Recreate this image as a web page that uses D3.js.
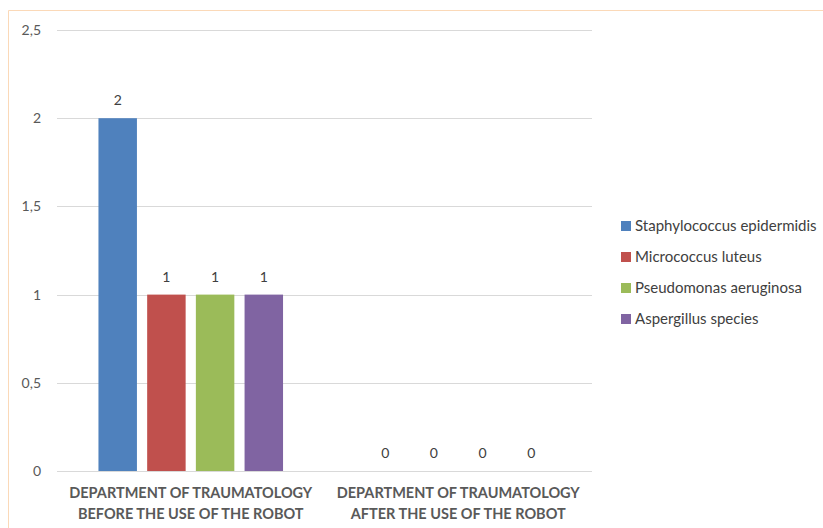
<!DOCTYPE html>
<html>
<head>
<meta charset="utf-8">
<script src="https://cdn.jsdelivr.net/npm/d3@7"></script>
<style>
  body { margin: 0; background: #fff; }
  text { font-family: Lato, "Open Sans", sans-serif; }
</style>
</head>
<body>
<div id="chart"></div>
<script>
// data
var categories = ["DEPARTMENT OF TRAUMATOLOGY|BEFORE THE USE OF THE ROBOT",
                  "DEPARTMENT OF TRAUMATOLOGY|AFTER THE USE OF THE ROBOT"];
var species = ["Staphylococcus epidermidis", "Micrococcus luteus",
               "Pseudomonas aeruginosa", "Aspergillus species"];
var colors = ["#4F81BD", "#C0504D", "#9BBB59", "#8064A2"];
var values = [[2, 1, 1, 1], [0, 0, 0, 0]];
var yTicks = [0, 0.5, 1, 1.5, 2, 2.5];

var width = 823, height = 528;
var plot = {left: 57, right: 592, top: 30, bottom: 471};

var svg = d3.select("#chart").append("svg")
  .attr("width", width)
  .attr("height", height);

// outer frame
svg.append("path")
  .attr("d", "M8.5," + height + "V10.5H" + width)
  .attr("fill", "none")
  .attr("stroke", "#FBD9B8")
  .attr("stroke-width", 1);

var y = d3.scaleLinear().domain([0, 2.5]).range([plot.bottom, plot.top]);
var x0 = d3.scaleBand().domain(d3.range(categories.length))
  .range([plot.left, plot.right]).paddingInner(0.31).paddingOuter(0.155);
var x1 = d3.scaleBand().domain(d3.range(species.length))
  .range([0, x0.bandwidth()]).paddingInner(0.21);

// gridlines
svg.append("g").selectAll("line")
  .data(yTicks)
  .join("line")
  .attr("x1", plot.left).attr("x2", plot.right)
  .attr("y1", d => Math.round(y(d)) + 0.5)
  .attr("y2", d => Math.round(y(d)) + 0.5)
  .attr("stroke", "#D9D9D9");

// y tick labels
svg.append("g").selectAll("text")
  .data(yTicks)
  .join("text")
  .attr("x", 41)
  .attr("y", d => y(d))
  .attr("dy", "0.35em")
  .attr("text-anchor", "end")
  .attr("font-size", 14)
  .attr("fill", "#595959")
  .text(d => String(d).replace(".", ","));

// bars
var groups = svg.append("g").selectAll("g")
  .data(values)
  .join("g")
  .attr("transform", (d, i) => "translate(" + x0(i) + ",0)");

groups.selectAll("rect")
  .data(d => d)
  .join("rect")
  .attr("x", (d, i) => x1(i))
  .attr("width", x1.bandwidth())
  .attr("y", d => y(d))
  .attr("height", d => y(0) - y(d))
  .attr("fill", (d, i) => colors[i]);

groups.selectAll("text")
  .data(d => d)
  .join("text")
  .attr("x", (d, i) => x1(i) + x1.bandwidth() / 2)
  .attr("y", d => y(d) - 13)
  .attr("text-anchor", "middle")
  .attr("font-size", 14)
  .attr("fill", "#404040")
  .text(d => d);

// category labels
svg.append("g").selectAll("text")
  .data(categories)
  .join("text")
  .attr("x", (d, i) => x0(i) + x0.bandwidth() / 2)
  .attr("text-anchor", "middle")
  .attr("font-size", 14.5)
  .attr("font-weight", "bold")
  .attr("fill", "#595959")
  .each(function(d) {
    var lines = d.split("|");
    d3.select(this).selectAll("tspan")
      .data(lines)
      .join("tspan")
      .attr("x", d3.select(this).attr("x"))
      .attr("y", (l, j) => 498 + j * 21)
      .text(l => l);
  });

// legend
var legend = svg.append("g").selectAll("g")
  .data(species)
  .join("g")
  .attr("transform", (d, i) => "translate(621," + (226 + i * 31) + ")");

legend.append("rect")
  .attr("x", 0).attr("y", -5)
  .attr("width", 10).attr("height", 10)
  .attr("fill", (d, i) => colors[i]);

legend.append("text")
  .attr("x", 14)
  .attr("dy", "0.35em")
  .attr("font-size", 15)
  .attr("fill", "#404040")
  .text(d => d);
</script>
</body>
</html>
